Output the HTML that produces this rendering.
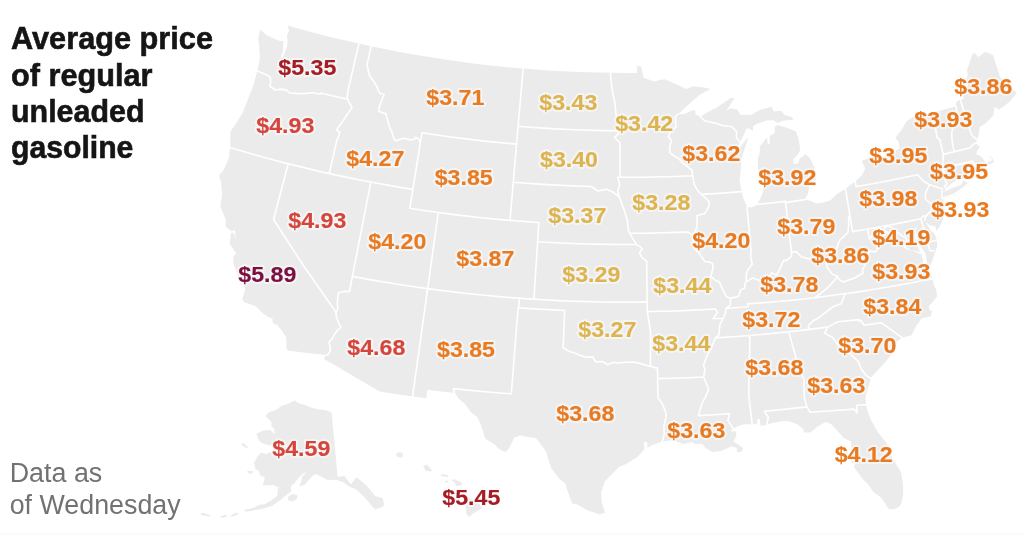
<!DOCTYPE html>
<html lang="en">
<head>
<meta charset="utf-8">
<title>Average price of regular unleaded gasoline</title>
<style>
html,body{margin:0;padding:0;background:#fff;}
body{width:1024px;height:535px;overflow:hidden;position:relative;font-family:"Liberation Sans",Arial,sans-serif;}
svg{position:absolute;left:0;top:0;display:block;}
.land{fill:#ebebeb;stroke:none;}
.borders{fill:none;stroke:#fff;stroke-width:1.6;stroke-linejoin:round;stroke-linecap:round;}
.lbl text,.halo text{font-family:"Liberation Sans",Arial,sans-serif;font-weight:700;font-size:22px;text-anchor:middle;stroke-linejoin:round;}
.lbl text{stroke-width:0.15px;}
.halo text{fill:#fff;stroke:#fff;stroke-width:4px;opacity:0.5;}
.title text{font-family:"Liberation Sans",Arial,sans-serif;font-weight:700;font-size:31px;fill:#151515;stroke:#151515;stroke-width:0.6px;}
.note text{font-family:"Liberation Sans",Arial,sans-serif;font-weight:400;font-size:27px;fill:#727272;}
</style>
</head>
<body>
<svg width="1024" height="535" viewBox="0 0 1024 535">
<g class="map">
<path class="land" d="M260.1 29.5L266.9 35.2L275.1 39.2L280.6 41.2L283.2 41.1L283.2 45.8L283 51.7L280.8 57L282.7 57.5L284.9 52.2L287.3 46L287.7 40.2L286.8 36.1L289 30.8L287.8 25.6L287.8 25.6L299.9 29L312.1 32.2L324.3 35.4L336.6 38.4L348.9 41.3L361.2 44.1L373.5 46.8L385.9 49.3L398.3 51.7L410.7 53.9L423.2 56.1L435.6 58.1L448.1 60L460.6 61.8L473.2 63.4L485.7 64.9L498.3 66.3L510.8 67.5L523.4 68.6L536 69.6L548.6 70.5L561.2 71.2L573.9 71.8L586.5 72.3L599.1 72.6L611.7 72.8L624.4 72.9L637 72.9L636.9 65.7L641.2 66.8L643.6 77.7L654.5 81.6L659.6 80L665.4 79.2L672.6 82.8L677.9 85L685.9 89L693.5 86.2L704 87.4L710.6 88.9L700.5 94.3L691.8 101.4L684.2 108.4L677.8 114.4L684.5 114.1L689.6 111.5L694.9 109.8L695.8 114.8L700.6 116.7L708.2 111.8L715.9 108.1L723.5 103.1L731 97.8L734.3 98.1L729.1 106.5L726.1 110.9L730.6 108.3L737.3 109.6L740.4 114.7L751.2 115L760 109.7L771.7 106.7L773.6 111.6L780.9 110.8L784.8 115.1L791.8 117.1L793.5 119.7L782.8 120.7L777.7 123L773.3 120.3L766.5 120.5L756.8 124L753 126.3L752.8 131.1L749.2 128.6L746.5 128.8L743.7 134.8L740.2 141.8L737.8 145.8L735.7 152.7L739.4 148.6L744.3 141.4L748.4 137.2L746 145.1L742.7 154L741.2 160.9L740.9 168.6L739.5 181.2L741.8 191.6L743 197.2L745.8 203.7L747.2 206.5L750.4 207.7L754.6 206.2L757 204.4L760.3 198.5L763.1 191.5L763.7 183.7L761.6 176.3L758 168.9L757.7 159.3L759.8 152.4L759.9 146.6L762.9 142.5L767.1 137.3L767.9 144.8L769.8 143.7L769.7 136L774.8 133.1L774.7 126.8L777.5 125L784.9 126.9L795.7 131.3L797.8 136.4L799 140.1L800.1 150.6L796.9 155.8L793.2 159.2L793.8 163.9L797.9 163.4L800 158.3L805.8 154.2L809.8 157.9L813.8 166.1L816 173.5L815.8 180.3L811.3 183.8L809 187.6L808.3 192.9L804.9 199.6L811.6 201.2L816.3 203.5L823.4 202.5L830.3 200.5L836.6 194.3L845.5 188.8L850.9 184.6L855.2 181.5L862.1 174.9L865.2 168.5L861.7 161.1L868.9 157.7L875.8 156.4L881.6 157.3L889.8 155.4L895.9 150.5L899.7 148.2L898.3 141.6L895.3 137.7L901.4 130.2L906.5 121.3L913.1 116.9L913.1 116.9L923.9 114.4L934.7 111.9L945.4 109.2L956.1 106.5L956.4 102.1L960.2 99.5L963.4 99.6L963.2 96.3L966.7 88.8L967.7 84.6L965.7 80.2L967.8 75.3L967 70L972.8 53.4L975.2 53.3L978.4 57.3L985 51.8L993.1 55.2L999.6 75.7L1000.6 77.7L1005.7 80.5L1007.4 86L1010.2 88.1L1015.6 91.5L1016.5 93L1010.1 101.2L1003.2 106.8L999 109.5L994.6 106.8L993.4 115.1L988.5 120.4L984.5 124.1L979.6 126.9L979.1 133L977.7 138.3L975.9 143.4L980 146.7L976.9 151.4L976.2 154.2L981.2 156.3L983.6 159.6L985.8 162.4L992 160.7L990.8 156.2L988.2 156L992.5 158.2L994 162.3L989.4 164.6L985.4 167.1L984 163.9L980.8 168.3L978.6 169.9L975.1 171.8L969.5 175.8L962 178.7L955.2 180.8L950.2 184.6L945.8 188L944.5 191.8L952.5 188L960.7 185L964 180.6L967.5 182.7L970.5 180.5L962.8 187.4L953.8 193.4L943.5 197L941.9 196.4L940.3 199.1L943.3 199.4L944.2 206.1L945 212.8L942.4 220.9L939.3 227L936.4 231L935.3 226.3L929.7 225.2L926 222L924.8 219.9L927.6 225.6L931 230.8L934.8 233.9L937 240.3L937 247.2L934.6 253.6L932.3 261L929.2 268.2L927.3 264.1L926.3 258.3L925.1 252.7L922.8 249.3L919.4 246L917.4 241.6L916.7 234.8L915.7 230.1L918.1 223.7L914.8 229.3L914.7 236.2L916.3 243.7L918.1 247.3L920.3 251.9L916.3 251.2L910.7 249.8L916.6 252.5L921.6 254.4L923 261L923.5 266.8L925.3 271.4L929.3 271.9L932.8 278.6L933.5 284.3L936.3 289.7L937 296.4L932.6 302.2L928.7 306L929.5 309.7L932.2 311.2L930.4 316.4L921.6 318.2L915.4 327.2L911.3 335.4L902 337.6L897.1 341.8L894.7 350.6L890 356.3L884.7 363L877 371.1L872.8 375.6L870.8 378.3L868.2 388L865.5 397.1L865.9 404.8L867.7 411.3L870.7 419.5L877.8 431.9L886.5 443L888.1 447.6L893.6 460.1L901 472.3L902.9 483.5L903.2 493.4L901.7 502.8L899.7 506.6L893.9 509.5L888.4 508.8L884.7 502.7L880.2 496.7L873.3 492L868.7 485.1L863.6 480.1L857.1 471.4L853.9 467.1L856.5 461L852.5 463.5L850.1 459L851.3 449.3L851.1 441.6L843.8 438.2L836.8 430.1L830.9 424.1L825.6 421.9L819.3 425.6L810 432.4L804.1 432.5L802.8 428.5L797.3 424.3L788.7 421.3L783.6 420.9L772.1 422.9L766.9 424.7L760.7 425.9L759.8 419.2L757.6 418.5L756.9 424.3L752.2 424.3L743.9 424.3L737.4 426.3L733.4 429.3L729.4 431.1L736.1 431.6L736.4 436.3L733.4 441.3L738.7 444.8L743.2 448.3L741.7 451.6L737.6 452.5L736.4 447.8L730.4 446.3L727.1 448.4L720.5 451.1L712.2 452.1L705.2 447.7L702.5 444L695.8 444.3L691.5 442.2L683.1 443.9L673 440L662.1 441.6L651.3 445.6L647.6 448L647.1 441.9L643.7 441.9L644.6 449.1L638 456.6L626.1 463.9L619.3 466.7L609 477.1L604.7 481.8L601 493.1L601.8 502.6L605.1 512.8L599.8 514.4L587.7 510.4L577.4 504.5L572.2 503.4L569 495.1L565.1 483.6L558.4 477.7L551.5 468.5L548.5 460.1L546.5 452.4L542.9 447.1L535.8 438.1L527.5 437.1L520.9 435.3L514.4 437.4L511.7 442.7L509.1 448.3L505.4 452.2L498.1 448.4L495.5 444.9L485.4 438.7L481.7 427.3L477.4 416.9L471.2 412.5L464.6 403.6L459.3 399.4L455 393.5L454.6 392.9L454.6 392.9L441 391.4L427.4 389.7L426.2 398.2L426.2 398.2L410.7 396.2L395.2 393.9L379.8 391.6L358.2 378.9L338.8 367.6L323.8 359.1L326.1 355L305.5 352.8L287.4 350.6L286.1 347L286.6 341.2L285.9 337.1L282.3 331.2L277.3 324.9L272.8 323.3L272.4 318.2L267.7 317.1L262.3 312.8L255.8 306.3L244.3 302.3L242.2 299.2L245.3 289.3L242.8 283.7L238 275.8L233.4 263.6L233.3 256.6L236.3 253.4L233.4 249.6L229.6 243.6L231.1 233L233.5 232.7L235.6 239.3L235 230.1L231.6 231.2L225.2 226.3L226.1 220.6L220.3 206.2L222.1 195.3L221.2 183L219 175.5L223.8 169.7L229.2 157.3L229.2 152.3L230.6 147.7L230.2 139.6L230.7 130.9L237.3 121.7L243.3 111.5L247.3 100.7L253.7 84.7L257.2 70.9L259.1 62.5L259.9 57.8L259.2 46.7L258.3 38.5Z"/>
<path class="land" d="M331.6 412.4L337.6 476.9L344.1 475.7L351 484.5L354.1 480L357.1 477.3L359.4 479.7L363.7 483L366.4 485.3L373.3 493.6L375 496L382.8 498.2L384.2 505L381.1 507.7L375.2 509.2L371.6 506.1L367.6 500.7L363.2 495.9L357.6 490.7L355.4 489L349.9 487.1L342.7 481.9L336.4 479.8L327.6 479.9L325.5 478.7L321.3 476.8L316.8 474.2L313.4 474.9L308.4 480.5L304.3 485L299.2 485.9L300.9 482.8L302 476.9L306.7 472.1L303.2 473.4L297.7 478.8L294.4 483.5L290.9 486L291.1 491.7L285.8 495.4L280.6 499.8L272.3 505.7L263.3 508.5L256.9 509.8L250.8 511L244.8 511.8L244.9 509.7L253.2 508L260.2 504.4L264.2 504.4L271.7 500L277.4 495.8L277.9 488.1L280.5 487.8L275.3 486.4L275.5 485L268.8 485.3L262.6 485.2L264.4 480.2L264.5 476.7L261 476.3L258.3 470.3L255.6 469.6L254.1 462.7L257.7 456.3L261 452.8L266.5 454.1L270.2 452L274.5 450L273.1 446.1L275.2 443.7L269.3 445.4L261.8 442.9L259 440.7L256.4 433.4L263.6 430.4L270.4 429.9L274.6 434.3L273.9 428.5L271.2 425.8L271.6 422.3L265.7 416.1L268.2 412.8L276.1 409.8L277.6 409.1L281 405.9L286 404.4L294.9 400.5L298.1 402.9L305 405.1L313.1 408.3L319.2 409.6L325.3 409.9ZM297.1 494.9L297.2 498.4L293.1 501.6L288.2 500.5L288.3 496.3L292.7 493.9ZM239.2 513.3L234.4 516.3L229.6 516.4L235.1 512.8ZM249.3 448.9L245.5 447.6L240.9 444.6L243.9 443L247.4 446.8ZM252.7 471.1L247 470.9L249 473.7L252.4 473.5ZM227.4 516.4L222.4 517.8L219.6 516.9L225.8 514.5ZM210.2 516.5L200.6 515L201.7 512.5L209.9 514.9Z"/>
<path class="land" d="M395.9 454.2L398.6 452L402.3 452.7L403 456.3L400.7 457.7L397.1 456.5ZM423.1 466.1L427.2 464.5L432.4 471.1L429.4 471.4L425.4 470.6ZM440.7 475.9L441.4 474.1L448.8 475.4L447.3 477.1ZM444.7 481.1L447 480.2L448.4 482.1L446.2 483.1ZM451.8 480.4L454 479L457 480.4L462.2 483.1L461.4 485.4L456.2 486.1L454.7 482.6ZM466.1 496L470.6 498.4L478.1 502.6L482.3 508L472.2 514L469.5 517.1L466.2 514L466.2 507.7L463.9 503.7L467.3 499.7Z"/>
<path class="borders" d="M257.2 70.9L264.6 74.1L267.7 75.5L270.5 77.7L270.5 82.7L270 86.5L275.4 90L281.2 89.1L286.5 90.1L289.9 93L299.5 93.6L306.5 93.4L312.3 92.5L320.2 94.3L320.8 93L320.8 93L329.7 95.2L338.7 97.3L347.7 99.3M358.9 43.6L347.9 91L347.2 97.6L347.7 99.3M347.7 99.3L348.8 102.3L352.1 107.4L347.4 114L344.4 118.7L343.1 120.9L336.5 130L339.6 131.7L339.2 134.7L337.7 138.5L337 139.5L329.3 173.5M371.1 46.3L367 65L369.5 75.6L373.1 80.4L376.7 86L378.9 91.8L380.8 93.9L384.2 94.2L380.7 102.8L378.4 111.1L384.8 113.7L385.8 113.1L387.2 119L389.8 127.8L391.5 131.2L393.9 138.6L395.6 140.7L403.6 138.2L410.4 139.9L414.4 139.2L415.4 137.3L417.9 138.4L420.4 142.7M230.6 147.7L243.4 151.5L256.3 155.2L269.2 158.7L282.1 162.2L295 165.4L308 168.6L321 171.7L334 174.6L347.1 177.4L360.2 180L373.3 182.5L386.5 184.9L399.6 187.2L412.8 189.4M422 132.7L409.8 208.3M288.2 163.7L273.6 219.5L303.9 266.3L336.1 312.4M336.1 312.4L337.8 308.8L337.3 302.9L338.3 292.9L344 291.4L349.5 291.5L352.4 276.4M336.1 312.4L336 315.3L338.5 323.1L341.1 327.1L338.2 329.5L334.8 333.7L332.1 339L329 342.3L330.6 350.5L327.7 355.2L326.1 355M370.8 182.1L352.4 276.4M352.4 276.4L367 279.1L381.6 281.6L396.2 284L410.8 286.3L425.5 288.4L440.2 290.3L454.9 292.1L469.6 293.8L484.4 295.3L499.1 296.6L513.9 297.9L528.7 298.9L543.5 299.8L558.3 300.6L573.1 301.2L587.9 301.6L602.7 302L617.5 302.1L632.4 302.1L647.2 302M409.8 208.3L424 210.5L438.3 212.5L452.6 214.4L467 216.1L481.3 217.7L495.7 219.1L510 220.4L524.4 221.5L538.8 222.5M438.3 212.5L412.6 396.4M422 132.7L435.4 134.8L448.9 136.7L462.4 138.4L476 140.1L489.5 141.6L503 142.9L516.6 144.1M523.1 68.6L510 220.4M518.1 126.3L530.7 127.3L543.2 128.1L555.8 128.9L568.3 129.5L580.9 130L593.5 130.4L606 130.6L618.6 130.8M513.3 182.2L526.3 183.2L539.2 184.1L552.2 184.9L565.1 185.5L578.1 186.1L591.1 186.5L598 191L606.4 189.3L612.7 192L619.1 196.5M538.8 222.5L537.6 241.7L537.6 241.7L551.7 242.5L565.8 243.2L579.9 243.7L594 244.1L608.1 244.4L622.2 244.5L636.4 244.4M537.6 241.7L533.9 299.2M519.4 298.3L518.7 307.8M518.1 307.8L529.7 308.6L541.4 309.3L553 309.9L564.7 310.5L563.1 347.7L569.3 351.4L575.5 353.2L580.2 355.6L586.5 357.3L592.8 356.9L595.9 362L602.3 361.5L607.8 364.8L613.4 362.2L616.6 363L626.1 362.3L634.1 362.1L642 363.9L650.4 366.5M518.1 307.8L511.3 393.9L511.3 393.9L496.9 392.8L482.4 391.5L468 390.1L453.6 388.6L453.7 390.5L454.6 392.9M610.4 72.8L611.3 82.2L612.7 93L615 103L615.8 112.9L618.1 124.5L618.6 130.8L618 134.4L614.6 137.2L620 143L619.9 177.3M617.8 177.3L630.2 177.3L642.7 177.2L655.2 177L667.7 176.7L680.2 176.3L692.7 175.7M617.8 177.3L619.8 185L617.7 190.7L619.1 196.5M619.1 196.5L622.6 206.1L624.7 211.8L627.3 220.5L628.3 230.1L629.7 233.3L634.1 240.6L636.4 244.4L640.8 247.3L642.3 249.2L639.4 253.1L642.4 257.8L646.7 261.2L647.3 311.6M629.7 233.3L641.4 233.2L653.1 233.1L664.8 232.8L676.4 232.4L688.1 232L692.8 235.6M647.3 311.6L661 311.3L674.8 311L688.5 310.4L702.2 309.8L715.9 309L717.4 312.8L713.1 318.8L723.4 318.2M647.3 311.6L650.6 332.7L650.4 366.5L657.4 368.1L658 397.8L662.1 403.4L666.1 413.3L665.7 418.6L663.8 426.3L664.4 433.9L662.1 441.6M657.6 378.6L673 378.2L688.4 377.7L703.7 377M677.8 114.4L675.4 116.2L675.8 127.2L670.5 131.7L668.2 136.6L671.5 140.3L669.7 147L669.9 152.7M669.9 152.7L674.1 156L678.3 158.2L682.6 162.8L686.2 165.5L691.9 170L692.7 175.7L694.1 184.2L697.9 190.8L701.5 194.4L705.4 198L709.2 201.6L708.9 206.6L704.9 213.4L697.1 215.4L697 227.3L693.1 235.2L693.2 244.2L694.5 248.6L699.1 253.2L704.8 261.5L708.8 261.9L712.6 263.2L712.9 268.2L710.9 276.6L715.6 280.5L719.2 281.9L724.5 293.1L726.6 296.8L730.5 298.4L730.3 305.2L725.9 308.4L725.4 313.2L723.4 318.2L720 324.2L718.8 335.2L715.4 337.9L711.5 347.8L706.9 355.7L703.5 365.5L704.9 369.3L703.7 377L708.7 389.2L705.8 396.1L701.4 404.9L698.6 415.6M698.6 415.6L714 414.8L729.4 413.8L727.9 420.6L732.4 427L733.4 429.3M701.5 194.4L715 193.6L728.4 192.6L741.8 191.6M700.6 116.7L704.6 120.8L718.4 123.9L722.6 125.5L732.1 126.8L736.6 131.6L736.4 137.4L739.5 141.9M746 281.8L746.6 272.1L750.6 266L752.3 264.3L750.5 256.3L751.1 251.5L747 206.5M785.5 202.2L791.5 252.2M757 204.4L771.2 203L785.4 201.4L785.5 202.6L795.2 201.1L804.9 199.6M849.7 214.2L848.6 219L848.7 225.4L847.9 232.7L840.1 239.8L838.7 242.5L836.9 248.1L831.5 252.2L830.1 257.8L826 261.3L819.2 255.8L813.5 258.1L808.4 258.8L801.3 256.8L796.2 251.6L791.5 252.2L791.5 256L786.8 260.4L783.7 260.2L779.5 269.6L776.3 275.1L771.6 272.7L769 277.2L760.3 280.9L752.9 277.9L746 281.8L744.9 283.8L744.7 288.3L740.6 290L738.8 296.3L730.5 298.4M725.9 308.4L727.4 308.3L737.7 307.5L747.9 306.7L747.6 303.3L747.7 303.9L761.1 302.9L774.5 301.8L787.8 300.6L801.2 299.2L814.6 297.8L814.6 297.8L829.7 295.7L844.9 293.5L845 293.7L859.6 291.6L874.3 289.3L889 286.8L903.6 284.2L918.2 281.5L932.8 278.6M845 293.7L841.4 303.4L832.6 307L825.6 312.4L819.9 317L812.6 321.3L808.5 325.6L808.7 329.7M715.4 337.9L729.4 337L743.5 336L757.5 334.8L771.6 333.5L785.6 332.1L799.6 330.6L813.6 328.9L827.6 327.1M827.6 327.1L837.9 321.8L858.9 319.6L859.4 321.5L860.9 320.2L864.1 325.2L881.3 322.7L902 337.6M827.6 327.1L824.5 333.3L832.2 337.1L838.1 345L845.3 350.7L849.8 353.6L858.3 361.4L861.1 368.8L866.3 375.7L870.8 378.3M788.7 331.8L800 371.7L804.1 379.3L804 388L804.3 397.6L807 406.9L810 412.3M810 412.3L824.7 411.3L839.3 410.3L854 409.1L857 412.7L856.7 405.2L865.9 404.8M807 406.9L792.8 408.4L778.6 409.9L764.4 411.2L768.3 417.5L766.9 424.7M748.2 335.6L749.9 337.4L748.7 395.2L752.2 424.3M826 261.3L826.9 267L832.5 274.6L837.8 276.3L832.9 282.3L828.2 287.2L822.7 291.8L814.6 297.8M837.8 276.3L838.9 279.5L843.2 282.1L849.7 279.8L854.5 278L862.9 273.2L862.4 269.8L865.9 263.3L869.1 251.1L875.6 251.9L879.9 245.5L885 231L893.7 235.9L894.6 232M894.6 232L892 227L886.6 226.1L883.1 230L878.4 228.5L874.5 232.8L869.3 238.9L867.7 229.1M852.6 231.6L866.4 229.3L880 226.9L893.7 224.3L907.3 221.6L920.9 218.8M852.6 231.6L845.5 188.8M894.6 232L898.1 232.7L902.6 236.1L906.1 237.9L907.1 243.6L904.3 247.1L909.1 249.5M925.9 216.1L923.2 216L920.9 218.8L927.4 242.2L937 240.3M927.4 242.2L930.1 250.7L934 250.8M924.8 219.9L925.9 216.1L929.4 212.4L933.8 206.5L927.7 201L925.4 199L925.5 193.2L929.5 184.7L923.6 181.3L917.7 174.7L917.7 174.7L905.4 177.3L893.1 179.8L880.8 182.2L868.5 184.5L856.1 186.6L855.2 181.5M929.5 184.7L942.3 188.8L941.9 196.4M945.8 188L944.2 186.4L947.3 183.7L945.8 182.1L943.1 167.9L943.2 154.1L939.7 139.2L937.2 137.8L935.1 126.5L931.7 112.4M943.2 168.3L955 165.4L966.7 162.5M966.7 162.6L970.2 175.6M966.7 162.6L972.5 161.1L973.8 163.2L976.7 167L978.6 169.9M943.3 154.4L956.7 151.1L970.1 147.7L970.7 147.3L973.4 144L975.9 143.4M954.2 151.8L953.1 146.7L951.9 139.1L951.8 133.2L953.2 125L952 119.3L957.3 116L956.1 106.3M976.5 139.3L971.7 135L970.3 131L964.8 114.1L960.2 99.5"/>
</g>
<rect class="bottomstrip" x="0" y="533" width="1024" height="2" fill="#fbfbfb"/>
<g class="title">
<text x="11" y="49.2" textLength="202" lengthAdjust="spacingAndGlyphs">Average price</text>
<text x="11" y="85.6" textLength="141.5" lengthAdjust="spacingAndGlyphs">of regular</text>
<text x="11" y="121.5" textLength="133.5" lengthAdjust="spacingAndGlyphs">unleaded</text>
<text x="11" y="157.9" textLength="122.4" lengthAdjust="spacingAndGlyphs">gasoline</text>
</g>
<g class="note">
<text x="9.7" y="481.9" textLength="92.6" lengthAdjust="spacingAndGlyphs">Data as</text>
<text x="9.7" y="513.7" textLength="171" lengthAdjust="spacingAndGlyphs">of Wednesday</text>
</g>
<g class="halo">
<text x="307.3" y="74.6" textLength="58" lengthAdjust="spacingAndGlyphs">$5.35</text>
<text x="285.3" y="133.1" textLength="58" lengthAdjust="spacingAndGlyphs">$4.93</text>
<text x="267.3" y="282.1" textLength="58" lengthAdjust="spacingAndGlyphs">$5.89</text>
<text x="317.3" y="228.1" textLength="58" lengthAdjust="spacingAndGlyphs">$4.93</text>
<text x="375.3" y="166.1" textLength="58" lengthAdjust="spacingAndGlyphs">$4.27</text>
<text x="455.3" y="105.1" textLength="58" lengthAdjust="spacingAndGlyphs">$3.71</text>
<text x="463.7" y="185.1" textLength="58" lengthAdjust="spacingAndGlyphs">$3.85</text>
<text x="397.3" y="249.1" textLength="58" lengthAdjust="spacingAndGlyphs">$4.20</text>
<text x="485.3" y="266.1" textLength="58" lengthAdjust="spacingAndGlyphs">$3.87</text>
<text x="376.3" y="355.1" textLength="58" lengthAdjust="spacingAndGlyphs">$4.68</text>
<text x="466" y="357.1" textLength="58" lengthAdjust="spacingAndGlyphs">$3.85</text>
<text x="568.3" y="110.1" textLength="58" lengthAdjust="spacingAndGlyphs">$3.43</text>
<text x="569" y="166.9" textLength="58" lengthAdjust="spacingAndGlyphs">$3.40</text>
<text x="577.3" y="223.1" textLength="58" lengthAdjust="spacingAndGlyphs">$3.37</text>
<text x="591.3" y="282.1" textLength="58" lengthAdjust="spacingAndGlyphs">$3.29</text>
<text x="607.3" y="337.1" textLength="58" lengthAdjust="spacingAndGlyphs">$3.27</text>
<text x="585.3" y="420.9" textLength="58" lengthAdjust="spacingAndGlyphs">$3.68</text>
<text x="644.2" y="131.1" textLength="58" lengthAdjust="spacingAndGlyphs">$3.42</text>
<text x="661.3" y="210.1" textLength="58" lengthAdjust="spacingAndGlyphs">$3.28</text>
<text x="682.3" y="293.1" textLength="58" lengthAdjust="spacingAndGlyphs">$3.44</text>
<text x="681.3" y="351.1" textLength="58" lengthAdjust="spacingAndGlyphs">$3.44</text>
<text x="696.3" y="438.1" textLength="58" lengthAdjust="spacingAndGlyphs">$3.63</text>
<text x="711.3" y="161.1" textLength="58" lengthAdjust="spacingAndGlyphs">$3.62</text>
<text x="721.3" y="248.1" textLength="58" lengthAdjust="spacingAndGlyphs">$4.20</text>
<text x="787.3" y="185.1" textLength="58" lengthAdjust="spacingAndGlyphs">$3.92</text>
<text x="806.3" y="234.1" textLength="58" lengthAdjust="spacingAndGlyphs">$3.79</text>
<text x="983.3" y="93.6" textLength="58" lengthAdjust="spacingAndGlyphs">$3.86</text>
<text x="943.3" y="127.1" textLength="58" lengthAdjust="spacingAndGlyphs">$3.93</text>
<text x="898.3" y="163.1" textLength="58" lengthAdjust="spacingAndGlyphs">$3.95</text>
<text x="959.1" y="179.1" textLength="58" lengthAdjust="spacingAndGlyphs">$3.95</text>
<text x="888.3" y="206.1" textLength="58" lengthAdjust="spacingAndGlyphs">$3.98</text>
<text x="960.3" y="217.1" textLength="58" lengthAdjust="spacingAndGlyphs">$3.93</text>
<text x="901.3" y="244.6" textLength="58" lengthAdjust="spacingAndGlyphs">$4.19</text>
<text x="840.3" y="263.1" textLength="58" lengthAdjust="spacingAndGlyphs">$3.86</text>
<text x="789.3" y="292.1" textLength="58" lengthAdjust="spacingAndGlyphs">$3.78</text>
<text x="901.3" y="279.1" textLength="58" lengthAdjust="spacingAndGlyphs">$3.93</text>
<text x="771.3" y="327.1" textLength="58" lengthAdjust="spacingAndGlyphs">$3.72</text>
<text x="892.3" y="314.1" textLength="58" lengthAdjust="spacingAndGlyphs">$3.84</text>
<text x="867.3" y="353.1" textLength="58" lengthAdjust="spacingAndGlyphs">$3.70</text>
<text x="774.3" y="375.1" textLength="58" lengthAdjust="spacingAndGlyphs">$3.68</text>
<text x="836.3" y="393.1" textLength="58" lengthAdjust="spacingAndGlyphs">$3.63</text>
<text x="863.7" y="461.9" textLength="58" lengthAdjust="spacingAndGlyphs">$4.12</text>
<text x="301.3" y="455.6" textLength="58" lengthAdjust="spacingAndGlyphs">$4.59</text>
<text x="471.3" y="505.1" textLength="58" lengthAdjust="spacingAndGlyphs">$5.45</text>
</g>
<g class="lbl">
<text x="307.3" y="74.6" fill="#a61c24" stroke="#a61c24" textLength="58" lengthAdjust="spacingAndGlyphs">$5.35</text>
<text x="285.3" y="133.1" fill="#d5453c" stroke="#d5453c" textLength="58" lengthAdjust="spacingAndGlyphs">$4.93</text>
<text x="267.3" y="282.1" fill="#7b1040" stroke="#7b1040" textLength="58" lengthAdjust="spacingAndGlyphs">$5.89</text>
<text x="317.3" y="228.1" fill="#d5453c" stroke="#d5453c" textLength="58" lengthAdjust="spacingAndGlyphs">$4.93</text>
<text x="375.3" y="166.1" fill="#e87b22" stroke="#e87b22" textLength="58" lengthAdjust="spacingAndGlyphs">$4.27</text>
<text x="455.3" y="105.1" fill="#e87b22" stroke="#e87b22" textLength="58" lengthAdjust="spacingAndGlyphs">$3.71</text>
<text x="463.7" y="185.1" fill="#e87b22" stroke="#e87b22" textLength="58" lengthAdjust="spacingAndGlyphs">$3.85</text>
<text x="397.3" y="249.1" fill="#e87b22" stroke="#e87b22" textLength="58" lengthAdjust="spacingAndGlyphs">$4.20</text>
<text x="485.3" y="266.1" fill="#e87b22" stroke="#e87b22" textLength="58" lengthAdjust="spacingAndGlyphs">$3.87</text>
<text x="376.3" y="355.1" fill="#d5453c" stroke="#d5453c" textLength="58" lengthAdjust="spacingAndGlyphs">$4.68</text>
<text x="466" y="357.1" fill="#e87b22" stroke="#e87b22" textLength="58" lengthAdjust="spacingAndGlyphs">$3.85</text>
<text x="568.3" y="110.1" fill="#ddb450" stroke="#ddb450" textLength="58" lengthAdjust="spacingAndGlyphs">$3.43</text>
<text x="569" y="166.9" fill="#ddb450" stroke="#ddb450" textLength="58" lengthAdjust="spacingAndGlyphs">$3.40</text>
<text x="577.3" y="223.1" fill="#ddb450" stroke="#ddb450" textLength="58" lengthAdjust="spacingAndGlyphs">$3.37</text>
<text x="591.3" y="282.1" fill="#ddb450" stroke="#ddb450" textLength="58" lengthAdjust="spacingAndGlyphs">$3.29</text>
<text x="607.3" y="337.1" fill="#ddb450" stroke="#ddb450" textLength="58" lengthAdjust="spacingAndGlyphs">$3.27</text>
<text x="585.3" y="420.9" fill="#e87b22" stroke="#e87b22" textLength="58" lengthAdjust="spacingAndGlyphs">$3.68</text>
<text x="644.2" y="131.1" fill="#ddb450" stroke="#ddb450" textLength="58" lengthAdjust="spacingAndGlyphs">$3.42</text>
<text x="661.3" y="210.1" fill="#ddb450" stroke="#ddb450" textLength="58" lengthAdjust="spacingAndGlyphs">$3.28</text>
<text x="682.3" y="293.1" fill="#ddb450" stroke="#ddb450" textLength="58" lengthAdjust="spacingAndGlyphs">$3.44</text>
<text x="681.3" y="351.1" fill="#ddb450" stroke="#ddb450" textLength="58" lengthAdjust="spacingAndGlyphs">$3.44</text>
<text x="696.3" y="438.1" fill="#e87b22" stroke="#e87b22" textLength="58" lengthAdjust="spacingAndGlyphs">$3.63</text>
<text x="711.3" y="161.1" fill="#e87b22" stroke="#e87b22" textLength="58" lengthAdjust="spacingAndGlyphs">$3.62</text>
<text x="721.3" y="248.1" fill="#e87b22" stroke="#e87b22" textLength="58" lengthAdjust="spacingAndGlyphs">$4.20</text>
<text x="787.3" y="185.1" fill="#e87b22" stroke="#e87b22" textLength="58" lengthAdjust="spacingAndGlyphs">$3.92</text>
<text x="806.3" y="234.1" fill="#e87b22" stroke="#e87b22" textLength="58" lengthAdjust="spacingAndGlyphs">$3.79</text>
<text x="983.3" y="93.6" fill="#e87b22" stroke="#e87b22" textLength="58" lengthAdjust="spacingAndGlyphs">$3.86</text>
<text x="943.3" y="127.1" fill="#e87b22" stroke="#e87b22" textLength="58" lengthAdjust="spacingAndGlyphs">$3.93</text>
<text x="898.3" y="163.1" fill="#e87b22" stroke="#e87b22" textLength="58" lengthAdjust="spacingAndGlyphs">$3.95</text>
<text x="959.1" y="179.1" fill="#e87b22" stroke="#e87b22" textLength="58" lengthAdjust="spacingAndGlyphs">$3.95</text>
<text x="888.3" y="206.1" fill="#e87b22" stroke="#e87b22" textLength="58" lengthAdjust="spacingAndGlyphs">$3.98</text>
<text x="960.3" y="217.1" fill="#e87b22" stroke="#e87b22" textLength="58" lengthAdjust="spacingAndGlyphs">$3.93</text>
<text x="901.3" y="244.6" fill="#e87b22" stroke="#e87b22" textLength="58" lengthAdjust="spacingAndGlyphs">$4.19</text>
<text x="840.3" y="263.1" fill="#e87b22" stroke="#e87b22" textLength="58" lengthAdjust="spacingAndGlyphs">$3.86</text>
<text x="789.3" y="292.1" fill="#e87b22" stroke="#e87b22" textLength="58" lengthAdjust="spacingAndGlyphs">$3.78</text>
<text x="901.3" y="279.1" fill="#e87b22" stroke="#e87b22" textLength="58" lengthAdjust="spacingAndGlyphs">$3.93</text>
<text x="771.3" y="327.1" fill="#e87b22" stroke="#e87b22" textLength="58" lengthAdjust="spacingAndGlyphs">$3.72</text>
<text x="892.3" y="314.1" fill="#e87b22" stroke="#e87b22" textLength="58" lengthAdjust="spacingAndGlyphs">$3.84</text>
<text x="867.3" y="353.1" fill="#e87b22" stroke="#e87b22" textLength="58" lengthAdjust="spacingAndGlyphs">$3.70</text>
<text x="774.3" y="375.1" fill="#e87b22" stroke="#e87b22" textLength="58" lengthAdjust="spacingAndGlyphs">$3.68</text>
<text x="836.3" y="393.1" fill="#e87b22" stroke="#e87b22" textLength="58" lengthAdjust="spacingAndGlyphs">$3.63</text>
<text x="863.7" y="461.9" fill="#e87b22" stroke="#e87b22" textLength="58" lengthAdjust="spacingAndGlyphs">$4.12</text>
<text x="301.3" y="455.6" fill="#d5453c" stroke="#d5453c" textLength="58" lengthAdjust="spacingAndGlyphs">$4.59</text>
<text x="471.3" y="505.1" fill="#a61c24" stroke="#a61c24" textLength="58" lengthAdjust="spacingAndGlyphs">$5.45</text>
</g>
</svg>
</body>
</html>
